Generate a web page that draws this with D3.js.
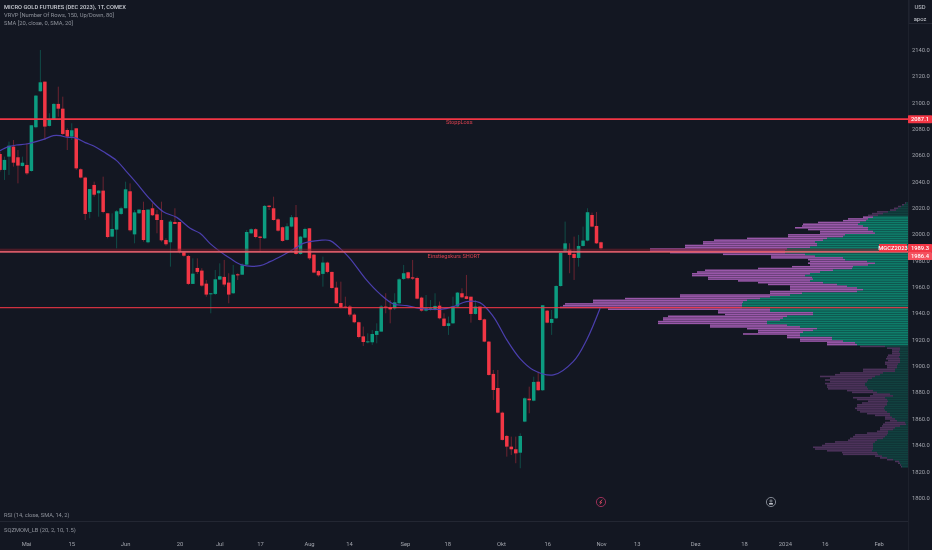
<!DOCTYPE html>
<html><head><meta charset="utf-8">
<script src="https://cdn.jsdelivr.net/npm/d3@7"></script>
<style>
html,body{margin:0;padding:0;background:#131722;overflow:hidden}
svg{display:block;filter:blur(0.3px)}
text{font-family:Roboto,"Open Sans",sans-serif}
</style></head><body><svg id="c" width="932" height="550"></svg>
<script>
const candleOpen=[2060.7,2048.6,2058.7,2066.3,2058.2,2051.6,2052.4,2047.8,2081,2108.3,
2115.6,2082,2087,2098.7,2095.1,2078.9,2073.9,2080.2,2049.1,2042.8,
2016.7,2037.2,2030.9,2032.9,2015.7,1998,2003.3,2015.2,2019.5,2032.4,
1999.7,2015.7,2018.2,1993.7,2019.5,2014.9,2010.6,1995.4,1993.7,2009.1,
2009.1,1986.1,1983.3,1962.1,1974.2,1972.2,1962.3,1954.2,1954.5,1965.4,
1967.4,1963.1,1955,1969.4,1969.1,1976.7,2000.5,2003.6,1998,1996.7,
2021.5,2019.5,2011.1,2005.1,1995.5,2005.6,2012.7,1984.8,1997.2,2004.3,
1984.3,1971.9,1969.7,1978.3,1971.2,1959.3,1947.6,1944.9,1944.9,1938.8,
1933,1922.3,1917.8,1917.8,1923.4,1925.9,1944.9,1944.4,1943.6,1947.4,
1965.9,1970.9,1967.1,1966.6,1951.7,1941.8,1942.3,1942.3,1945.6,1935.8,
1930.2,1932.2,1944.9,1955,1952.7,1952.4,1939.3,1944.9,1935.2,1918.3,
1893.8,1883.1,1864.4,1846.7,1838.6,1836.6,1834,1857.6,1875,1873.5,
1887.9,1881.4,1941.8,1932.5,1936,1960.5,1986.6,1988.1,1984.8,1981.8,
1990.9,1995,2014.4,2006.1,1993.7];
const candleHigh=[2062.5,2058.7,2070.1,2071.3,2063.7,2058.7,2068.8,2082.5,2105.5,2139.6,
2115.6,2091.6,2099.2,2111.8,2104.2,2080.2,2084,2080.2,2049.8,2043.5,
2034.1,2039.7,2033.4,2043.5,2015.7,2015.7,2018.2,2020.7,2039.7,2038.4,
2018.2,2018.7,2024.5,2018.5,2023.3,2018.2,2024.5,1996.7,2010.6,2019.5,
2009.1,1986.6,1984.1,1981.5,1981.5,1974,1965.1,1955,1972.7,1977.7,
1980.3,1970.2,1976.5,1970.2,1977.7,2003,2004.3,2004.3,1998.5,2022,
2022,2028.3,2011.9,2005.6,2008.1,2014.4,2022,1998.5,2004.8,2004.3,
1984.8,1972.7,1982.8,1979,1971.4,1963.8,1963.8,1952.4,1946.1,1939.8,
1933.5,1929.7,1924.6,1927.1,1932.2,1946.1,1955,1949.9,1955,1966.4,
1976.5,1971.4,1980.3,1967.6,1952.4,1953.7,1949.9,1955,1948.7,1939.8,
1937.3,1952.4,1956,1958.8,1968.9,1952.4,1949.9,1944.9,1935.8,1918.8,
1896.8,1896.8,1865.2,1847.5,1846.2,1846.2,1848.7,1876,1884.1,1891.7,
1895.5,1945.9,1942.3,1942.3,1961.1,1986.4,2009.4,1992.9,1998,1999.3,
2005.6,2019.5,2016.2,2016.7,1994.2];
const candleLow=[2047.3,2041,2044.8,2051.1,2038.4,2051.1,2044.8,2047.3,2080.2,2108,
2071.3,2081.5,2086.5,2089,2075.1,2063.7,2071.3,2048.6,2042.2,2010.6,
2011.9,2028.3,2013.1,2015.7,1996.7,1997.5,1989.1,2014.4,2019.5,2001.8,
1992.9,2015.2,1994.2,1992.9,2013.7,2000.5,1994.2,1991.1,1975.2,2007.6,
1985.3,1982.8,1961.3,1962.1,1969.7,1960,1952.4,1939.8,1953.7,1965.1,
1960,1947.4,1954.5,1965.1,1968.9,1976.2,2000,1996.7,1986.6,1996.2,
2018.2,2010.1,2001.8,1994.2,1995,2005.1,1984.3,1984.3,1996.7,1980.3,
1970.2,1967.6,1960,1970.2,1958.5,1946.9,1943.6,1943.6,1937.3,1932.2,
1920.8,1915,1917,1915.8,1917,1925.9,1939.8,1932.2,1942.3,1946.9,
1965.1,1965.6,1965.1,1950.4,1941.1,1941.1,1941.8,1941.8,1935.2,1929.7,
1923.4,1931.7,1944.4,1951.2,1950.4,1932.7,1938.8,1934.2,1917.8,1892.5,
1874,1863.9,1843.2,1831,1832.3,1826,1822.2,1857.1,1863.9,1873,
1881.1,1880.9,1932.2,1923.4,1935.5,1960,1985.8,1970.2,1965.1,1975.2,
1990.4,1994.4,2005.1,1992.4,1987.9];
const candleClose=[2048.6,2056.2,2067,2054.1,2051.9,2054.1,2046,2082.5,2105,2115.1,
2081.5,2087,2098.7,2095.1,2075.9,2073.9,2078.7,2049.8,2042.8,2015.2,
2034.1,2029.8,2032.9,2016.7,1997.7,2003.8,2017.2,2019.5,2033.9,2002.8,
2016.4,2018.5,1995.4,2018.5,2014.2,2010.6,1995.2,1992.2,2009.4,2007.6,
1986.6,1983.5,1962.1,1969.9,1971.2,1960.8,1954,1955,1965.6,1967.9,
1961.6,1954,1969.1,1968.6,1976.2,2001.5,2003.6,1997.7,1997,2021.3,
2020.5,2010.6,2002.5,1994.7,2005.8,2012.7,1984.8,1998,2003.8,1981.5,
1970.7,1968.6,1978.3,1971.2,1959,1947.4,1944.4,1944.4,1938.8,1933,
1921.8,1918,1918.5,1924.1,1926.4,1944.9,1944.4,1942.8,1948.1,1965.6,
1970.2,1966.4,1966.1,1950.9,1941.8,1943.6,1943.6,1945.4,1936,1930.2,
1932.2,1944.9,1955.5,1951.9,1950.7,1939.3,1944.9,1934.7,1918.3,1893,
1881.6,1864.4,1843.7,1838.6,1836.6,1833.5,1846.7,1875.3,1873.8,1887.7,
1881.4,1945.9,1932.7,1935.5,1960.5,1985.8,1992.9,1984.1,1981.8,1990.9,
1995,2016.5,2005.6,1992.9,1989.1];

const smaBars=[0,1.9,3.7,5.9,8,9.7,11.9,13.4,14.9,16.7,19,20.8,23,26,28.2,30.5,33.4,36.4,39.4,42.4,44.6,46.8,49.1,51.3,53.9,58,60.2,63.2,65.8,67.6,69.1,71.3,73.6,75.4,78,81.7,84.7,87.7,90.7,93.6,98.1,101.1,104,107,110,113,115.9,118.9,123.4,127.8,130.8,133.8];
const smaValues=[2063.2,2066.3,2067.5,2068.3,2070.1,2071.8,2074.6,2074.6,2073.4,2073.1,2069.3,2067,2062.5,2055.7,2047.3,2038.4,2026.6,2016.9,2012.6,2004.3,2000.5,1992.9,1986.6,1981.5,1976.5,1976,1979,1984.1,1989.1,1992.9,1994.2,1995.2,1995,1990.4,1981.5,1965.1,1954.5,1946.9,1945.6,1943.6,1942.8,1944.9,1948.7,1947.9,1937.3,1919.6,1905.6,1896.8,1893,1903.1,1919.6,1943.6];

const vpTotal=[3,6,10,14,18,31,36,40,45,60,65,90,105,106,113,100,88,88,120,120,161,194,205,205,223,223,258,258,238,185,137,137,100,98,100,98,116,150,
203,211,216,216,200,200,170,150,140,118,118,118,138,138,228,228,283,315,315,343,345,348,300,190,190,183,240,245,245,250,250,198,198,161,150,150,165,121,121,108,108,81,81,
48,21,16,16,16,20,21,22,20,23,23,21,21,45,45,68,73,88,78,83,78,83,81,81,80,61,56,35,38,55,51,40,46,51,51,53,51,48,41,33,23,23,18,23,25,26,28,28,31,41,53,55,58,60,73,83,86,95,93,81,66,65,33,28,21,13,10,8,7];
const vpUp=[2,4,7,10,12,20,25,30,35,40,42,48,50,45,40,40,35,33,63,65,81,85,93,91,91,98,121,123,123,103,93,65,63,41,33,40,55,56,
75,88,98,103,96,95,98,85,71,61,51,45,51,106,118,138,148,161,165,166,166,166,138,138,95,95,121,125,128,141,141,121,108,91,95,105,108,108,76,76,65,53,51,
23,8,8,9,8,8,9,8,8,8,10,11,11,13,13,25,28,33,36,40,41,43,43,41,40,35,31,18,15,23,21,20,21,21,23,24,23,21,18,18,16,13,11,3,2,8,13,15,20,20,21,23,25,31,33,35,35,35,35,36,31,30,26,21,15,9,8,7,6];
const vpTopPrice=2024.1, vpBottomPrice=1822.6;

const stopLevel=2087.1, entryLevel=1986.4, lastPrice=1989.3, supportLevel=1944.1;
const priceTicks=d3.range(1800,2141,20);
const timeLabels=["Mai","15","Jun","20","Jul","17","Aug","14","Sep","18","Okt","16","Nov","13","Dez","18","2024","16","Feb"];
const timeBars=[5.8,15.9,27.9,40,48.9,58,68.9,77.8,90.3,99.7,111.7,122,134,142,155,165.9,175,183.9,195.9];
const legendLines=["MICRO GOLD FUTURES (DEC 2023), 1T, COMEX","VRVP [Number Of Rows, 150, Up/Down, 80]","SMA [20, close, 0, SMA, 20]"];

const W=932,H=550,axisX=908;
const BG="#131722",UP="#0c9c80",DOWN="#f23645";
const svg=d3.select("#c");
svg.append("rect").attr("width",W).attr("height",H).attr("fill",BG);
const defs=svg.append("defs");
defs.append("clipPath").attr("id","plot").append("rect").attr("width",axisX).attr("height",510);

const x=d3.scaleLinear().domain([0,200]).range([0,897]);
const y=d3.scaleLinear().domain([1800,2140]).range([497.5,49.5]);
const bars=candleOpen.map((o,i)=>({i,o,h:candleHigh[i],l:candleLow[i],c:candleClose[i]}));
const plot=svg.append("g").attr("clip-path","url(#plot)");

plot.append("g").selectAll("line").data(bars).join("line")
 .attr("x1",d=>x(d.i)).attr("x2",d=>x(d.i)).attr("y1",d=>y(d.h)).attr("y2",d=>y(d.l))
 .attr("stroke",d=>d.c>=d.o?UP:DOWN).attr("stroke-width",0.8).attr("stroke-opacity",0.5);
plot.append("g").selectAll("rect").data(bars).join("rect")
 .attr("x",d=>x(d.i)-1.75).attr("width",3.5)
 .attr("y",d=>y(Math.max(d.o,d.c))).attr("height",d=>Math.max(1,Math.abs(y(d.o)-y(d.c))))
 .attr("fill",d=>d.c>=d.o?UP:DOWN);
plot.append("path").datum(smaBars.map((b,i)=>[b,smaValues[i]]))
 .attr("fill","none").attr("stroke","#4b3fae").attr("stroke-width",1.2)
 .attr("d",d3.line().x(d=>x(d[0])).y(d=>y(d[1])).curve(d3.curveCatmullRom));

const vpRow=d3.scaleBand().domain(d3.range(vpTotal.length)).range([y(vpTopPrice),y(vpBottomPrice)]);
const vpW=d3.scaleLinear().domain([0,350]).range([0,350]);
const rowAlpha=i=> i>=81?0.42:(i<8?0.42:1);
const vp=plot.append("g");
const rows=vpTotal.map((t,i)=>({i,t,u:vpUp[i]}));
vp.selectAll("rect.d").data(rows).join("rect").attr("class","d")
 .attr("x",d=>axisX-vpW(d.t)).attr("width",d=>vpW(d.t-d.u))
 .attr("y",d=>vpRow(d.i)).attr("height",vpRow.bandwidth()-0.2)
 .attr("fill","#9a58aa").attr("fill-opacity",d=>rowAlpha(d.i));
vp.selectAll("rect.u").data(rows).join("rect").attr("class","u")
 .attr("x",d=>axisX-vpW(d.u)).attr("width",d=>vpW(d.u))
 .attr("y",d=>vpRow(d.i)).attr("height",vpRow.bandwidth()-0.2)
 .attr("fill","#0e7d6a").attr("fill-opacity",d=>rowAlpha(d.i));

const lv=svg.append("g");
lv.append("rect").attr("x",0).attr("width",axisX).attr("y",y(lastPrice)+0.6).attr("height",y(entryLevel)-y(lastPrice)-0.6)
 .attr("fill","#7a1f2c").attr("fill-opacity",0.55);
lv.append("line").attr("x1",0).attr("x2",axisX).attr("y1",y(stopLevel)).attr("y2",y(stopLevel))
 .attr("stroke","#f23645").attr("stroke-width",1.8);
lv.append("line").attr("x1",0).attr("x2",axisX).attr("y1",y(entryLevel)).attr("y2",y(entryLevel))
 .attr("stroke","#e8606e").attr("stroke-width",1.7).attr("stroke-opacity",0.9);
lv.append("line").attr("x1",0).attr("x2",axisX).attr("y1",y(supportLevel)).attr("y2",y(supportLevel))
 .attr("stroke","#f23645").attr("stroke-width",1.3).attr("stroke-opacity",0.85);
lv.append("text").attr("x",x(102.4)).attr("y",y(stopLevel)+4.8).attr("text-anchor","middle")
 .attr("font-size",5.6).attr("fill","#d9414f").text("StoppLoss");
lv.append("text").attr("x",x(101.2)).attr("y",y(entryLevel)+6.4).attr("text-anchor","middle")
 .attr("font-size",5.6).attr("fill","#d9414f").text("Einstiegskurs SHORT");

legendLines.forEach((t,i)=>{
 svg.append("text").attr("x",4).attr("y",9.2+i*7.7).attr("font-size",5.75)
  .attr("font-weight",i==0?500:400).attr("fill",i==0?"#c9ccd3":"#8f939c").text(t);
});

svg.append("line").attr("x1",0).attr("x2",axisX).attr("y1",521.5).attr("y2",521.5).attr("stroke","#232733");
svg.append("line").attr("x1",axisX+.5).attr("x2",axisX+.5).attr("y1",0).attr("y2",H).attr("stroke","#1d212c");
svg.append("text").attr("x",4).attr("y",517).attr("font-size",5.7).attr("fill","#8f939c").text("RSI (14, close, SMA, 14, 2)");
svg.append("text").attr("x",4).attr("y",532.2).attr("font-size",5.8).attr("fill","#8f939c").text("SQZMOM_LB (20, 2, 10, 1.5)");

const yAxis=d3.axisRight(y).tickValues(priceTicks).tickSize(0).tickPadding(0).tickFormat(d3.format(".1f"));
const ya=svg.append("g").attr("transform",`translate(${axisX+4},0)`).call(yAxis);
ya.select(".domain").remove();
ya.selectAll("text").attr("font-size",5.8).attr("fill","#a3a6ae").attr("font-family","Roboto");

const xAxis=d3.axisBottom(x).tickValues(timeBars).tickSize(0).tickPadding(0).tickFormat((d,i)=>timeLabels[i]);
const xa=svg.append("g").attr("transform","translate(0,542)").call(xAxis);
xa.select(".domain").remove();
xa.selectAll("text").attr("font-size",5.8).attr("fill","#a3a6ae").attr("font-family","Roboto");

svg.append("rect").attr("x",axisX+1).attr("y",-1).attr("width",24).attr("height",24.5).attr("fill","none").attr("stroke","#232733");
svg.append("text").attr("x",920).attr("y",9).attr("text-anchor","middle").attr("font-size",5.8).attr("fill","#c9ccd3").text("USD");
svg.append("text").attr("x",920).attr("y",21).attr("text-anchor","middle").attr("font-size",5.8).attr("fill","#c9ccd3").text("apoz");

function tag(x0,w,cy,h,fill,label){
 svg.append("rect").attr("x",x0).attr("y",cy-h/2).attr("width",w).attr("height",h).attr("fill",fill).attr("rx",0.6);
 svg.append("text").attr("x",x0+w/2).attr("y",cy+2.1).attr("text-anchor","middle").attr("font-size",5.8).attr("font-weight",500).attr("fill","#fff").text(label);
}
tag(axisX,24,y(stopLevel),8,"#f23645",stopLevel.toFixed(1));
tag(879,28,248,8,"#f23645","MGCZ2023");
tag(axisX,24,248,8,"#f23645",lastPrice.toFixed(1));
tag(axisX,24,256,8,"#f4505e",entryLevel.toFixed(1));

const ic1=svg.append("g").attr("transform","translate(601,502)");
ic1.append("circle").attr("r",4.6).attr("fill",BG).attr("stroke","#a8325e").attr("stroke-width",0.9);
ic1.append("path").attr("d","M1.3,-2.4 L-1.3,0.2 L0.6,0.2 L-1,2.4").attr("fill","none").attr("stroke","#f2506a").attr("stroke-width",0.8);
const ic2=svg.append("g").attr("transform","translate(771,502)");
ic2.append("circle").attr("r",4.6).attr("fill",BG).attr("stroke","#9aa0ab").attr("stroke-width",0.8);
ic2.append("circle").attr("cy",-1).attr("r",1.1).attr("fill","none").attr("stroke","#c0c4cc").attr("stroke-width",0.6);
ic2.append("path").attr("d","M-1.9,2.6 L-1.9,1 L1.9,1 L1.9,2.6 Z").attr("fill","#c0c4cc");
</script></body></html>
